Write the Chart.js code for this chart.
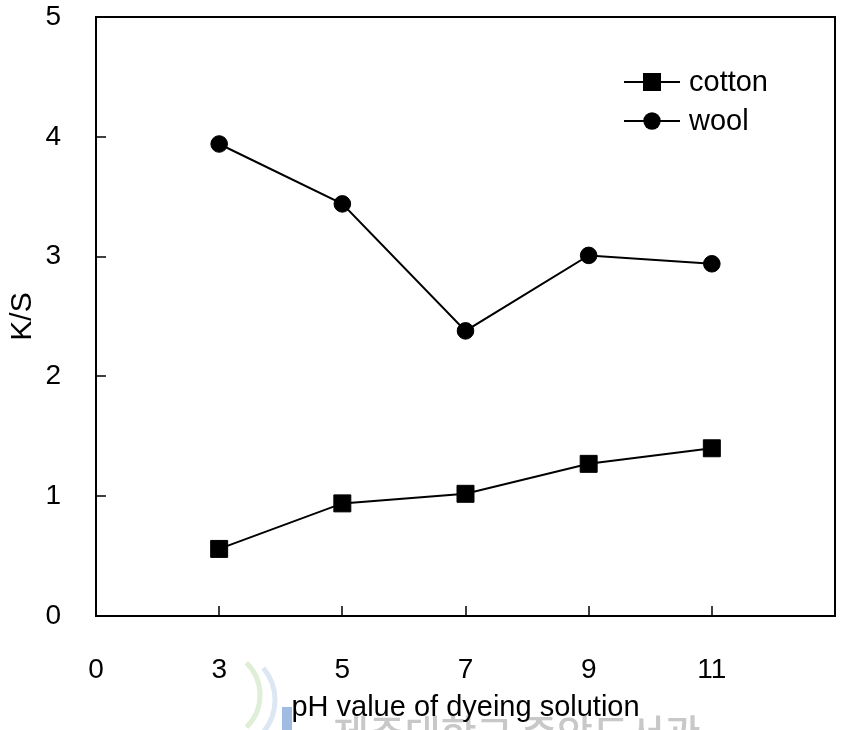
<!DOCTYPE html>
<html>
<head>
<meta charset="utf-8">
<script src="https://cdn.jsdelivr.net/npm/chart.js"></script>
<style>
  body { margin: 0; background: #fff; }
  canvas { display: block; }
</style>
</head>
<body>
<canvas id="ks-chart" width="841" height="730"></canvas>
<script>
// pH values of the dyeing solution (x-axis categories that carry data)
const phValues = ["3", "5", "7", "9", "11"];

// Tick labels along the x-axis: "0" at the origin and an empty slot after 11
const xTickLabels = ["0", "3", "5", "7", "9", "11", ""];

// K/S values
const cottonKS = [0.56, 0.94, 1.02, 1.27, 1.40];
const woolKS = [3.94, 3.44, 2.38, 3.01, 2.94];

// y-axis range
const yMin = 0;
const yMax = 5;

const FONT = "'Liberation Sans', Arial, sans-serif";

// Frame round the plot area and the small inward tick marks
const framePlugin = {
  id: "frame",
  beforeDraw(chart) {
    // faint library watermark at the bottom of the scan
    const ctx = chart.ctx;
    ctx.save();
    ctx.strokeStyle = "rgba(150, 200, 120, 0.3)";
    ctx.lineWidth = 5;
    ctx.beginPath();
    ctx.arc(215, 695, 45, -0.8, 0.8);
    ctx.stroke();
    ctx.strokeStyle = "rgba(120, 160, 210, 0.25)";
    ctx.beginPath();
    ctx.arc(225, 700, 50, -0.7, 0.7);
    ctx.stroke();
    ctx.fillStyle = "rgba(120, 160, 215, 0.7)";
    ctx.fillRect(282, 707, 10, 23);
    ctx.fillStyle = "#c8c8c8";
    ctx.font = "500 39px 'Noto Sans CJK KR'";
    ctx.textBaseline = "alphabetic";
    ctx.fillText("제주대학교 중앙도서관", 333, 748);
    ctx.restore();
  },
  beforeDatasetsDraw(chart) {
    const { ctx, chartArea: a, scales: { x, y } } = chart;
    ctx.save();
    ctx.strokeStyle = "#000";
    ctx.lineWidth = 2;
    ctx.strokeRect(a.left, a.top, a.right - a.left, a.bottom - a.top);
    ctx.lineWidth = 1.5;
    ctx.beginPath();
    y.ticks.forEach(t => {
      const py = Math.round(y.getPixelForValue(t.value));
      ctx.moveTo(a.left, py);
      ctx.lineTo(a.left + 10, py);
    });
    x.ticks.forEach((t, i) => {
      const px = Math.round(x.getPixelForTick(i));
      ctx.moveTo(px, a.bottom);
      ctx.lineTo(px, a.bottom - 10);
    });
    ctx.stroke();
    ctx.restore();
  }
};

// Legend inside the plot: line with marker, then the label
const insideLegend = {
  id: "insideLegend",
  afterDraw(chart) {
    const { ctx, chartArea: a } = chart;
    const x0 = a.right - 211;
    ctx.save();
    chart.data.datasets.forEach((ds, i) => {
      const cy = a.top + 65 + i * 39;
      ctx.strokeStyle = "#000";
      ctx.lineWidth = 2;
      ctx.beginPath();
      ctx.moveTo(x0, cy);
      ctx.lineTo(x0 + 56, cy);
      ctx.stroke();
      ctx.fillStyle = "#000";
      if (ds.pointStyle === "rect") {
        ctx.fillRect(x0 + 19, cy - 9, 18, 18);
      } else {
        ctx.beginPath();
        ctx.arc(x0 + 28, cy, 8.7, 0, Math.PI * 2);
        ctx.fill();
      }
      ctx.font = "29px " + FONT;
      ctx.textBaseline = "middle";
      ctx.fillText(ds.label, x0 + 65, cy + 1);
    });
    ctx.restore();
  }
};

new Chart("ks-chart", {
  type: "line",
  data: {
    labels: xTickLabels,
    datasets: [
      {
        label: "cotton",
        data: phValues.map((ph, i) => ({ x: ph, y: cottonKS[i] })),
        borderColor: "#000",
        borderWidth: 2,
        pointStyle: "rect",
        pointRadius: 12,
        pointBackgroundColor: "#000",
        pointBorderColor: "#000",
        pointBorderWidth: 1
      },
      {
        label: "wool",
        data: phValues.map((ph, i) => ({ x: ph, y: woolKS[i] })),
        borderColor: "#000",
        borderWidth: 2,
        pointStyle: "circle",
        pointRadius: 8.3,
        pointBackgroundColor: "#000",
        pointBorderColor: "#000",
        pointBorderWidth: 1
      }
    ]
  },
  options: {
    responsive: false,
    animation: false,
    layout: { autoPadding: false, padding: { top: 17, right: 6, left: 0, bottom: 0 } },
    plugins: {
      legend: { display: false },
      tooltip: { enabled: false }
    },
    scales: {
      x: {
        type: "category",
        offset: false,
        grid: { display: false },
        border: { display: false },
        ticks: {
          autoSkip: false,
          maxRotation: 0,
          padding: 29,
          color: "#000",
          font: { family: FONT, size: 28 }
        },
        title: {
          display: true,
          text: "pH value of dyeing solution",
          color: "#000",
          font: { family: FONT, size: 29 },
          padding: { top: 0, bottom: 5 }
        },
        afterFit: s => {
          s.height = 114;
          s.paddingLeft = 0;
          s.paddingRight = 0;
        }
      },
      y: {
        min: yMin,
        max: yMax,
        grid: { display: false },
        border: { display: false },
        ticks: {
          stepSize: 1,
          padding: 27,
          color: "#000",
          font: { family: FONT, size: 28 }
        },
        title: {
          display: true,
          text: "K/S",
          color: "#000",
          font: { family: FONT, size: 30 },
          padding: { top: 5, bottom: 0 }
        },
        afterFit: s => {
          s.width = 96;
          s.paddingTop = 0;
          s.paddingBottom = 0;
        }
      }
    }
  },
  plugins: [framePlugin, insideLegend]
});
</script>
</body>
</html>
